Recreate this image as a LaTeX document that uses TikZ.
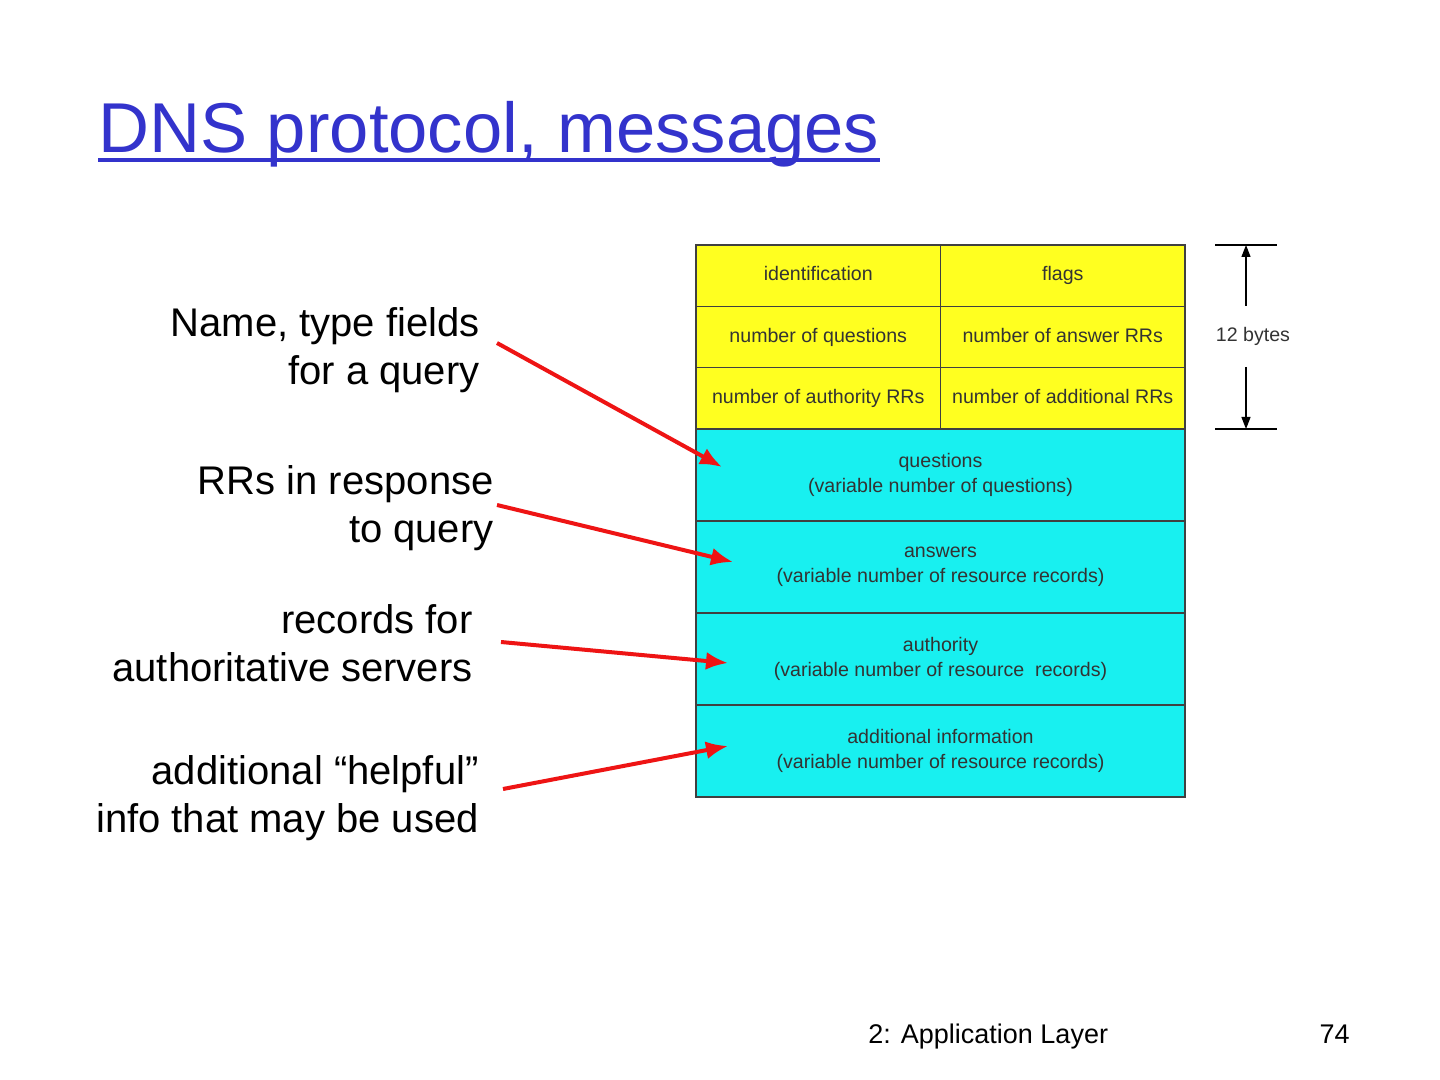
\documentclass[tikz,border=0pt]{standalone}
\usepackage{fontspec}
\setmainfont{Liberation Sans}
\usetikzlibrary{positioning,arrows,arrows.meta,calc}
\definecolor{titleblue}{RGB}{51,51,204}
\definecolor{hdryellow}{RGB}{255,255,32}
\definecolor{seccyan}{RGB}{24,240,240}
\definecolor{arrowred}{RGB}{238,20,20}

\begin{document}
\begin{tikzpicture}[x=0.5pt, y=-0.5pt,
        cell/.style={rectangle, draw=black!75, line width=0.7pt, inner sep=0pt, outer sep=0pt, text=black!80, font=\fontsize{9.8}{12.5}\selectfont},
        hdr cell/.style={cell, fill=hdryellow, minimum width=122.25pt, minimum height=30.67pt, text height=7.2pt, text depth=2pt},
        sec cell/.style={cell, fill=seccyan, minimum width=244.5pt, minimum height=46pt, align=center},
        note/.style={align=right, inner sep=0pt, font=\fontsize{20}{24}\selectfont},
        line/.style={draw, arrowred, line width=2pt, -{Latex[length=11pt,width=9pt]}},
        dim line/.style={draw, line width=0.6pt, -{Triangle[length=6pt,width=4.5pt]}}]
        \useasboundingbox [fill=white] (0,0) rectangle (1440,1080);

        % title
        \node [anchor=base west, inner sep=0pt, text=titleblue, font=\fontsize{35.3}{42}\selectfont] (title) at (98,153) {DNS protocol, messages};
        \draw [titleblue, line width=2pt] ($(title.base west)+(0,7)$) -- ($(title.base east)+(0,7)$);

        % header, 12 bytes
        \node [hdr cell] (ident) at (818.25,275.67) {identification};
        \node [hdr cell, right=0pt of ident] (flags) {flags};
        \node [hdr cell, below=0pt of ident] (nquest) {number of questions};
        \node [hdr cell, below=0pt of flags] (nans) {number of answer RRs};
        \node [hdr cell, below=0pt of nquest] (nauth) {number of authority RRs};
        \node [hdr cell, below=0pt of nans] (naddl) {number of additional RRs};

        % variable sections
        \node [sec cell, below=0pt of nauth.south east] (quest) {questions\\(variable number of questions)};
        \node [sec cell, below=0pt of quest] (answ) {answers\\(variable number of resource records)};
        \node [sec cell, below=0pt of answ] (auth) {authority\\(variable number of resource~~records)};
        \node [sec cell, below=0pt of auth] (addl) {additional information\\(variable number of resource records)};

        % size of header
        \node [inner sep=0pt, font=\fontsize{9.8}{12}\selectfont, text=black!80] (bytes) at (1253,336) {12 bytes};
        \coordinate (ticktopl) at (1215,245);
        \coordinate (ticktopr) at (1277,245);
        \coordinate (tickbotl) at (1215,429);
        \coordinate (tickbotr) at (1277,429);
        \coordinate (dimup) at (1246,306);
        \coordinate (dimdown) at (1246,367);
        \draw [line width=0.6pt] (ticktopl) -- (ticktopr);
        \draw [line width=0.6pt] (tickbotl) -- (tickbotr);
        \path [dim line] (dimup) -- (ticktopl -| dimup);
        \path [dim line] (dimdown) -- (tickbotl -| dimdown);

        % notes
        \node [note, anchor=east] (namelbl) at (480,350) {Name, type fields\\for a query};
        \node [note, anchor=east] (rrlbl) at (494,508) {RRs in response\\to query};
        \node [note, anchor=east] (authlbl) at (473,643) {records for\\authoritative servers};
        \node [note, anchor=east] (addllbl) at (479,798) {additional “helpful”\\info that may be used};

        \coordinate (namefrom) at (497,343);
        \coordinate (nameto) at (722,467);
        \coordinate (rrfrom) at (497,505);
        \coordinate (rrto) at (733,562);
        \coordinate (authfrom) at (501,642);
        \coordinate (authto) at (728,663);
        \coordinate (addlfrom) at (503,789);
        \coordinate (addlto) at (728,746);
        \path [line] (namefrom) -- (nameto);
        \path [line] (rrfrom) -- (rrto);
        \path [line] (authfrom) -- (authto);
        \path [line] (addlfrom) -- (addlto);

        % footer
        \node [anchor=base west, inner sep=0pt, font=\fontsize{13.5}{16}\selectfont] (chapter) at (868,1043) {2: Application Layer};
        \node [anchor=base east, inner sep=0pt, font=\fontsize{13.5}{16}\selectfont] (pageno) at (1350,1043) {74};
    \end{tikzpicture}
\end{document}
